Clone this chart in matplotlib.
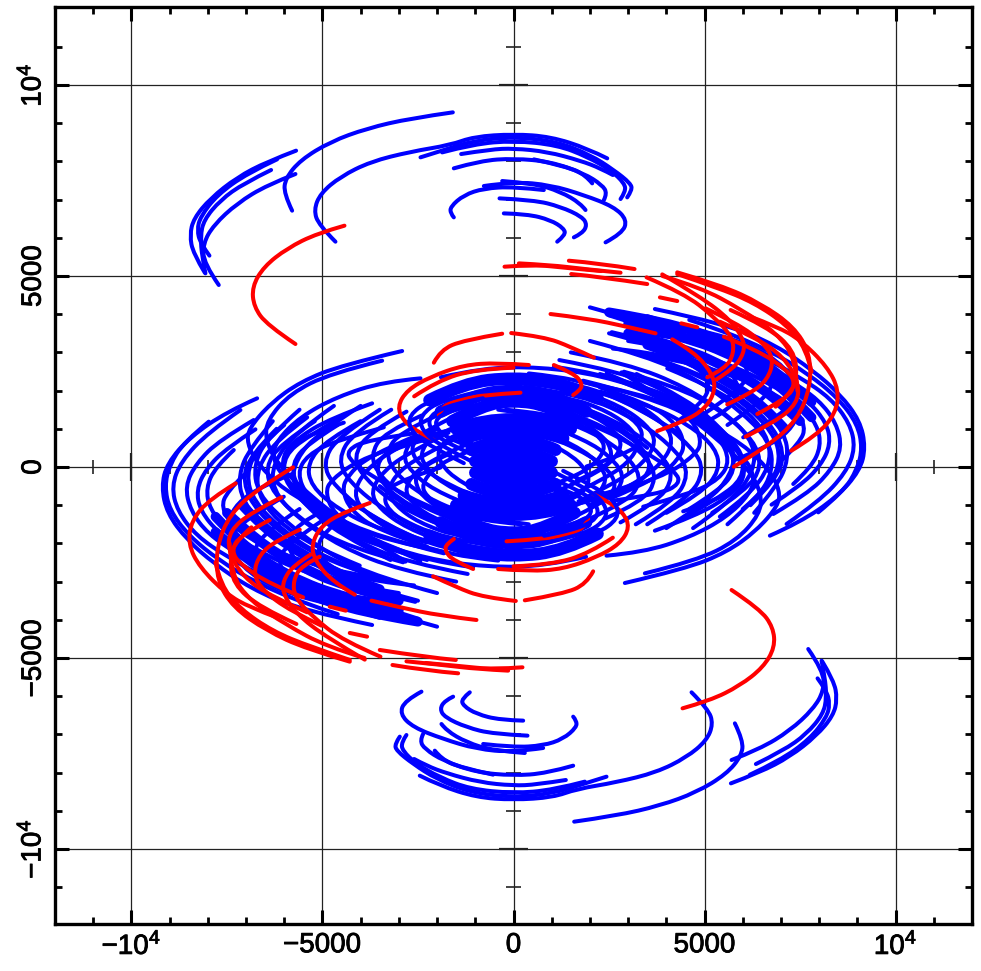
#!/usr/bin/env python3
import matplotlib
matplotlib.use("Agg")
import matplotlib.pyplot as plt
import matplotlib.patheffects as pe
from matplotlib.path import Path
from matplotlib.patches import PathPatch

plt.rcParams["font.family"] = ["Liberation Sans", "DejaVu Sans"]
plt.rcParams["mathtext.fontset"] = "custom"
plt.rcParams["mathtext.rm"] = "Liberation Sans"
plt.rcParams["mathtext.default"] = "regular"

major_ticks = [-10000, -5000, 0, 5000, 10000]
minor_ticks = [v for v in range(-11000, 12000, 1000) if v % 5000 != 0]
tick_labels = ["$-10^4$", "$-5000$", "0", "5000", "$10^4$"]

# arcs, in data units
blue_top = [
    [(-5690,8282),(-6449,7994),(-7234,7584),(-7932,7034),(-8369,6510),(-8473,6074),(-8386,5594),(-8080,5088)],
    [(-6187,8055),(-6972,7688),(-7758,7121),(-8194,6554),(-8281,6205),(-8194,5856),(-7958,5533)],
    [(-6344,7776),(-7060,7426),(-7670,6990),(-8107,6466),(-8194,6030),(-8150,5507),(-8063,5070)],
    [(-5707,7671),(-6449,7383),(-7234,6903),(-7845,6336),(-8124,5856),(-8107,5332),(-7714,4765)],
    [(-1588,9285),(-2696,9128),(-3831,8866),(-4790,8517),(-5576,8037),(-5969,7557),(-6012,7165),(-5794,6711)],
    [(-4660,5899),(-5096,6336),(-5227,6728),(-5052,7165),(-4529,7601),(-3743,7994),(-2696,8255),(-1649,8430),(-1038,8648),(9,8717),(969,8648),(1929,8342),(2453,8080)],
    [(-2434,8107),(-1823,8299),(-1038,8543),(9,8648),(1144,8517),(2016,8168),(2627,7775),(3064,7426),(3107,7251),(2976,7059)],
    [(-1867,8237),(-1038,8456),(9,8543),(1144,8429),(1929,8124),(2540,7775),(2907,7426),(2933,7208),(2802,7016)],
    [(-1370,8194),(-602,8316),(9,8342),(882,8255),(1755,8019),(2278,7819),(2601,7644)],
    [(-1562,7819),(-864,8019),(9,8080),(969,7993),(1842,7688),(2322,7382),(2453,7164),(2365,6990)],
    [(533,8054),(1406,7862),(1885,7644),(2060,7426)],
    [(-776,7356),(9,7470),(969,7382),(1842,7120),(2627,6815),(2976,6466),(2845,6117),(2409,5881)],
    [(794,7251),(9,7339),(-776,7295),(-1300,7120),(-1649,6815),(-1649,6640),(-1562,6536)],
    [(-296,7487),(533,7426),(1231,7208),(1755,6902),(1885,6728)],
    [(-366,7033),(533,6990),(1231,6815),(1798,6553),(1929,6335),(1798,6117),(1580,6012)],
    [(-253,6640),(358,6623),(969,6466),(1318,6248),(1362,6073),(1144,5899)],
]

blue_bottom = [
    [(5690,-8282),(6449,-7994),(7234,-7584),(7932,-7034),(8369,-6510),(8473,-6074),(8386,-5594),(8080,-5088)],
    [(6187,-8055),(6972,-7688),(7758,-7121),(8194,-6554),(8281,-6205),(8194,-5856),(7958,-5533)],
    [(6344,-7776),(7060,-7426),(7670,-6990),(8107,-6466),(8194,-6030),(8150,-5507),(8063,-5070)],
    [(5707,-7671),(6449,-7383),(7234,-6903),(7845,-6336),(8124,-5856),(8107,-5332),(7714,-4765)],
    [(1588,-9285),(2696,-9128),(3831,-8866),(4790,-8517),(5576,-8037),(5969,-7557),(6012,-7165),(5794,-6711)],
    [(4660,-5899),(5096,-6336),(5227,-6728),(5052,-7165),(4529,-7601),(3743,-7994),(2696,-8255),(1649,-8430),(1038,-8648),(-9,-8717),(-969,-8648),(-1929,-8342),(-2453,-8080)],
    [(2434,-8107),(1823,-8299),(1038,-8543),(-9,-8648),(-1144,-8517),(-2016,-8168),(-2627,-7775),(-3064,-7426),(-3107,-7251),(-2976,-7059)],
    [(1867,-8237),(1038,-8456),(-9,-8543),(-1144,-8429),(-1929,-8124),(-2540,-7775),(-2907,-7426),(-2933,-7208),(-2802,-7016)],
    [(1370,-8194),(602,-8316),(-9,-8342),(-882,-8255),(-1755,-8019),(-2278,-7819),(-2601,-7644)],
    [(1562,-7819),(864,-8019),(-9,-8080),(-969,-7993),(-1842,-7688),(-2322,-7382),(-2453,-7164),(-2365,-6990)],
    [(-533,-8054),(-1406,-7862),(-1885,-7644),(-2060,-7426)],
    [(776,-7356),(-9,-7470),(-969,-7382),(-1842,-7120),(-2627,-6815),(-2976,-6466),(-2845,-6117),(-2409,-5881)],
    [(-794,-7251),(-9,-7339),(776,-7295),(1300,-7120),(1649,-6815),(1649,-6640),(1562,-6536)],
    [(296,-7487),(-533,-7426),(-1231,-7208),(-1755,-6902),(-1885,-6728)],
    [(366,-7033),(-533,-6990),(-1231,-6815),(-1798,-6553),(-1929,-6335),(-1798,-6117),(-1580,-6012)],
    [(253,-6640),(-358,-6623),(-969,-6466),(-1318,-6248),(-1362,-6073),(-1144,-5899)],
]

blue_left = [
    [(-6710,1798),(-7496,1449),(-8456,794),(-9067,96),(-9215,-515),(-9067,-1213),(-8543,-1911),(-7845,-2522),(-6885,-3177),(-5576,-3744),(-3700,-4136)],
    [(-7976,1187),(-8630,650),(-9000,50),(-9130,-500),(-9000,-1130),(-8500,-1800),(-7700,-2450),(-6700,-3050),(-5400,-3600),(-4600,-3850)],
    [(-7147,1492),(-8000,900),(-8700,150),(-8950,-500),(-8800,-1150),(-8300,-1800),(-7500,-2350),(-6400,-2950),(-5000,-3500),(-3500,-3950)],
    [(-6800,1230),(-7700,700),(-8300,100),(-8600,-500),(-8450,-1150),(-8000,-1750),(-7200,-2300),(-6000,-2950),(-4400,-3500),(-3000,-3900),(-2000,-4180)],
    [(-6754,986),(-7500,500),(-8050,-50),(-8300,-600),(-8200,-1150),(-7700,-1750),(-6900,-2300),(-5800,-2850),(-4300,-3400),(-2500,-3970)],
    [(-7321,445),(-7800,0),(-8050,-550),(-7950,-1100),(-7500,-1650),(-6700,-2200),(-5500,-2750),(-4000,-3200),(-2570,-3530)],
    [(-7060,-209),(-7500,-650),(-7650,-1050),(-7350,-1550),(-6700,-2000),(-5600,-2450),(-4300,-2800),(-3176,-2976)],
    [(-5750,-166),(-6623,-515),(-7234,-951),(-7452,-1388),(-7234,-1911),(-6536,-2609),(-5314,-3220),(-3918,-3569)],
    [(-6012,-777),(-7060,-1388),(-7452,-1911),(-7147,-2609),(-6187,-3220),(-4616,-3656),(-3700,-3800)],
    [(-5600,-1100),(-6500,-1700),(-6850,-2250),(-6500,-2800),(-5500,-3250),(-4000,-3550),(-3000,-3650)],
    [(-5000,-1400),(-5900,-2000),(-6200,-2500),(-5800,-3000),(-4700,-3350),(-3300,-3500)],
    [(-4900,-1100),(-5700,-1500),(-5950,-2100),(-5500,-2700),(-4500,-3050),(-3000,-3300)],
    [(-4300,-1200),(-5000,-1700),(-5150,-2250),(-4700,-2700),(-3600,-3000),(-2600,-3100)],
    [(-2914,3037),(-4485,2670),(-5576,2234),(-6361,1667),(-6929,1012),(-6972,620),(-6710,96),(-6012,-602),(-4878,-1213),(-3569,-1824),(-1823,-2260)],
    [(-3438,2784),(-4790,2452),(-5838,1929),(-6449,1231),(-6492,707),(-6187,96),(-5401,-689),(-4267,-1562),(-2827,-2478)],
    [(-2434,2321),(-3394,2234),(-4616,1841),(-5576,1318),(-6187,707),(-6318,271),(-6056,-253),(-5139,-1039),(-3961,-1800),(-2434,-2450)],
    [(-3700,1667),(-4790,1274),(-5663,751),(-6056,314),(-6012,-340),(-5489,-951),(-4616,-1737),(-3220,-2435)],
    [(-4441,1161),(-5401,838),(-5925,445),(-6056,-79),(-5750,-689),(-4965,-1388),(-3831,-1999),(-2260,-2435)],
    [(-3394,1039),(-4616,707),(-5401,314),(-5663,-166),(-5401,-777),(-4616,-1388),(-3394,-1911),(-1649,-2260)],
    [(-2609,881),(-3831,707),(-4354,445),(-4267,140),(-3394,-428),(-2085,-1126),(-776,-1562)],
    [(-2522,707),(-3918,271),(-4790,-340),(-4921,-689),(-4703,-1213),(-3918,-1824),(-2522,-2347)],
    [(-2609,794),(-3831,271),(-4354,-253),(-4485,-602),(-4267,-1126),(-3569,-1649),(-2260,-2086)],
    [(-2000,794),(-3045,533),(-3569,183),(-3525,-340),(-2870,-951),(-1823,-1475)],
    [(-1911,-15),(-2958,-340),(-3394,-689),(-3307,-1126),(-2522,-1649),(-1213,-2086)],
    [(-1649,358),(-2434,9),(-2609,-340),(-2347,-864),(-1474,-1388)],
    [(-1649,969),(-2434,794),(-2696,532),(-2522,96),(-1823,-428),(-776,-864)],
    [(-5000,-1200),(-3800,-1900),(-2300,-2400),(-700,-2620),(800,-2600),(1900,-2350)],
    [(-4300,-900),(-3200,-1600),(-1800,-2150),(-200,-2350),(1300,-2150)],
    [(-3500,-500),(-2600,-1200),(-1300,-1800),(200,-2000),(1500,-1800)],
]

blue_right = [
    [(6710,-1798),(7496,-1449),(8456,-794),(9067,-96),(9215,515),(9067,1213),(8543,1911),(7845,2522),(6885,3177),(5576,3744),(3700,4136)],
    [(7976,-1187),(8630,-650),(9000,-50),(9130,500),(9000,1130),(8500,1800),(7700,2450),(6700,3050),(5400,3600),(4600,3850)],
    [(7147,-1492),(8000,-900),(8700,-150),(8950,500),(8800,1150),(8300,1800),(7500,2350),(6400,2950),(5000,3500),(3500,3950)],
    [(6800,-1230),(7700,-700),(8300,-100),(8600,500),(8450,1150),(8000,1750),(7200,2300),(6000,2950),(4400,3500),(3000,3900),(2000,4180)],
    [(6754,-986),(7500,-500),(8050,50),(8300,600),(8200,1150),(7700,1750),(6900,2300),(5800,2850),(4300,3400),(2500,3970)],
    [(7321,-445),(7800,0),(8050,550),(7950,1100),(7500,1650),(6700,2200),(5500,2750),(4000,3200),(2570,3530)],
    [(7060,209),(7500,650),(7650,1050),(7350,1550),(6700,2000),(5600,2450),(4300,2800),(3176,2976)],
    [(5750,166),(6623,515),(7234,951),(7452,1388),(7234,1911),(6536,2609),(5314,3220),(3918,3569)],
    [(6012,777),(7060,1388),(7452,1911),(7147,2609),(6187,3220),(4616,3656),(3700,3800)],
    [(5600,1100),(6500,1700),(6850,2250),(6500,2800),(5500,3250),(4000,3550),(3000,3650)],
    [(5000,1400),(5900,2000),(6200,2500),(5800,3000),(4700,3350),(3300,3500)],
    [(4900,1100),(5700,1500),(5950,2100),(5500,2700),(4500,3050),(3000,3300)],
    [(4300,1200),(5000,1700),(5150,2250),(4700,2700),(3600,3000),(2600,3100)],
    [(2914,-3037),(4485,-2670),(5576,-2234),(6361,-1667),(6929,-1012),(6972,-620),(6710,-96),(6012,602),(4878,1213),(3569,1824),(1823,2260)],
    [(3438,-2784),(4790,-2452),(5838,-1929),(6449,-1231),(6492,-707),(6187,-96),(5401,689),(4267,1562),(2827,2478)],
    [(2434,-2321),(3394,-2234),(4616,-1841),(5576,-1318),(6187,-707),(6318,-271),(6056,253),(5139,1039),(3961,1800),(2434,2450)],
    [(3700,-1667),(4790,-1274),(5663,-751),(6056,-314),(6012,340),(5489,951),(4616,1737),(3220,2435)],
    [(4441,-1161),(5401,-838),(5925,-445),(6056,79),(5750,689),(4965,1388),(3831,1999),(2260,2435)],
    [(3394,-1039),(4616,-707),(5401,-314),(5663,166),(5401,777),(4616,1388),(3394,1911),(1649,2260)],
    [(2609,-881),(3831,-707),(4354,-445),(4267,-140),(3394,428),(2085,1126),(776,1562)],
    [(2522,-707),(3918,-271),(4790,340),(4921,689),(4703,1213),(3918,1824),(2522,2347)],
    [(2609,-794),(3831,-271),(4354,253),(4485,602),(4267,1126),(3569,1649),(2260,2086)],
    [(2000,-794),(3045,-533),(3569,-183),(3525,340),(2870,951),(1823,1475)],
    [(1911,15),(2958,340),(3394,689),(3307,1126),(2522,1649),(1213,2086)],
    [(1649,-358),(2434,-9),(2609,340),(2347,864),(1474,1388)],
    [(1649,-969),(2434,-794),(2696,-532),(2522,-96),(1823,428),(776,864)],
    [(5000,1200),(3800,1900),(2300,2400),(700,2620),(-800,2600),(-1900,2350)],
    [(4300,900),(3200,1600),(1800,2150),(200,2350),(-1300,2150)],
    [(3500,500),(2600,1200),(1300,1800),(-200,2000),(-1500,1800)],
]

# the inner rings of the disk, tips on the right
blue_mid_right = [
    [(3194,3001),(4500,2600),(5700,2000),(6700,1200),(7100,400),(6900,-300),(6200,-1000)],
    [(3718,2844),(5000,2350),(6000,1700),(6800,900),(7000,200),(6700,-500),(6000,-1100)],
    [(4024,2582),(5200,2100),(6200,1400),(6700,700),(6700,0),(6200,-700),(5400,-1300)],
    [(2889,2495),(4300,2100),(5400,1500),(6300,700),(6500,0),(6100,-600),(5200,-1200)],
    [(1056,2626),(2278,2451),(4024,1840),(5333,1055),(6000,300),(6000,-300),(5400,-800),(4500,-1300)],
    [(2278,1971),(3500,1650),(4600,1100),(5300,500),(5400,-100),(4900,-700),(4000,-1200)],
    [(4024,1710),(5000,1200),(5700,500),(5800,-100),(5400,-600),(4600,-1100)],
    [(500,2300),(2000,2100),(3600,1400),(4700,500),(5000,-100),(4600,-800),(3500,-1500)],
    [(300,2100),(1800,1900),(3300,1200),(4300,400),(4600,-200),(4200,-900),(3200,-1500)],
    [(0,1900),(1500,1700),(3000,1050),(3900,300),(4200,-250),(3800,-900),(2800,-1450)],
    [(-200,1700),(1300,1500),(2700,900),(3500,250),(3750,-300),(3400,-900),(2400,-1350)],
    [(-400,1500),(1100,1300),(2400,750),(3100,150),(3350,-350),(3000,-900),(2000,-1350)],
    [(-300,1250),(900,1100),(2100,600),(2700,100),(2900,-300),(2600,-800),(1700,-1250)],
    [(0,1000),(1000,850),(1900,400),(2300,0),(2450,-350),(2150,-800),(1300,-1150)],
    [(100,800),(900,650),(1600,250),(1900,-100),(2000,-400),(1700,-800),(1000,-1050)],
    [(400,2450),(1800,2300),(3000,1800),(3900,1200),(4200,700),(3900,100),(3100,-500),(2000,-1000)],
    [(200,2200),(1600,2050),(2800,1600),(3500,1100),(3750,650),(3400,100),(2700,-400),(1700,-900)],
    [(0,2000),(1400,1850),(2500,1450),(3100,1000),(3300,600),(3000,100),(2300,-350),(1400,-800)],
    [(-100,1800),(1200,1650),(2200,1300),(2700,900),(2850,550),(2550,100),(1900,-300),(1100,-650)],
    [(-200,1500),(900,1400),(1800,1100),(2300,750),(2400,450),(2100,50),(1500,-300),(800,-550)],
    [(1500,3000),(3000,2700),(4500,2100),(5700,1300),(6300,600),(6300,-100),(5700,-900),(4700,-1600)],
    [(1200,2800),(2800,2500),(4200,1900),(5300,1100),(5800,450),(5700,-200),(5100,-900),(4000,-1600)],
    [(2000,3300),(3500,2900),(4800,2300),(5900,1500),(6700,700),(6800,-100),(6400,-800),(5600,-1500)],
    [(2500,3500),(4000,3100),(5300,2500),(6400,1700),(7100,900),(7200,200),(6900,-500),(6300,-1200)],
]

blue_mid_left = [
    [(-3194,-3001),(-4500,-2600),(-5700,-2000),(-6700,-1200),(-7100,-400),(-6900,300),(-6200,1000)],
    [(-3718,-2844),(-5000,-2350),(-6000,-1700),(-6800,-900),(-7000,-200),(-6700,500),(-6000,1100)],
    [(-4024,-2582),(-5200,-2100),(-6200,-1400),(-6700,-700),(-6700,0),(-6200,700),(-5400,1300)],
    [(-2889,-2495),(-4300,-2100),(-5400,-1500),(-6300,-700),(-6500,0),(-6100,600),(-5200,1200)],
    [(-1056,-2626),(-2278,-2451),(-4024,-1840),(-5333,-1055),(-6000,-300),(-6000,300),(-5400,800),(-4500,1300)],
    [(-2278,-1971),(-3500,-1650),(-4600,-1100),(-5300,-500),(-5400,100),(-4900,700),(-4000,1200)],
    [(-4024,-1710),(-5000,-1200),(-5700,-500),(-5800,100),(-5400,600),(-4600,1100)],
    [(-500,-2300),(-2000,-2100),(-3600,-1400),(-4700,-500),(-5000,100),(-4600,800),(-3500,1500)],
    [(-300,-2100),(-1800,-1900),(-3300,-1200),(-4300,-400),(-4600,200),(-4200,900),(-3200,1500)],
    [(0,-1900),(-1500,-1700),(-3000,-1050),(-3900,-300),(-4200,250),(-3800,900),(-2800,1450)],
    [(200,-1700),(-1300,-1500),(-2700,-900),(-3500,-250),(-3750,300),(-3400,900),(-2400,1350)],
    [(400,-1500),(-1100,-1300),(-2400,-750),(-3100,-150),(-3350,350),(-3000,900),(-2000,1350)],
    [(300,-1250),(-900,-1100),(-2100,-600),(-2700,-100),(-2900,300),(-2600,800),(-1700,1250)],
    [(0,-1000),(-1000,-850),(-1900,-400),(-2300,0),(-2450,350),(-2150,800),(-1300,1150)],
    [(-100,-800),(-900,-650),(-1600,-250),(-1900,100),(-2000,400),(-1700,800),(-1000,1050)],
    [(-400,-2450),(-1800,-2300),(-3000,-1800),(-3900,-1200),(-4200,-700),(-3900,-100),(-3100,500),(-2000,1000)],
    [(-200,-2200),(-1600,-2050),(-2800,-1600),(-3500,-1100),(-3750,-650),(-3400,-100),(-2700,400),(-1700,900)],
    [(0,-2000),(-1400,-1850),(-2500,-1450),(-3100,-1000),(-3300,-600),(-3000,-100),(-2300,350),(-1400,800)],
    [(100,-1800),(-1200,-1650),(-2200,-1300),(-2700,-900),(-2850,-550),(-2550,-100),(-1900,300),(-1100,650)],
    [(200,-1500),(-900,-1400),(-1800,-1100),(-2300,-750),(-2400,-450),(-2100,-50),(-1500,300),(-800,550)],
    [(-1500,-3000),(-3000,-2700),(-4500,-2100),(-5700,-1300),(-6300,-600),(-6300,100),(-5700,900),(-4700,1600)],
    [(-1200,-2800),(-2800,-2500),(-4200,-1900),(-5300,-1100),(-5800,-450),(-5700,200),(-5100,900),(-4000,1600)],
    [(-2000,-3300),(-3500,-2900),(-4800,-2300),(-5900,-1500),(-6700,-700),(-6800,100),(-6400,800),(-5600,1500)],
    [(-2500,-3500),(-4000,-3100),(-5300,-2500),(-6400,-1700),(-7100,-900),(-7200,-200),(-6900,500),(-6300,1200)],
]

# arcs that run over the red ring near the core
blue_ring_tips = [
    [(-1400,2000),(-2200,1750),(-2750,1350),(-2700,950),(-2200,550),(-1300,100)],
    [(-1000,1950),(-1900,1750),(-2450,1350),(-2400,950),(-1900,550),(-1100,150)],
    [(-800,1800),(-1600,1650),(-2220,1350),(-2180,950),(-1700,600),(-900,250)],
    [(-600,1700),(-1400,1550),(-2050,1300),(-2000,950),(-1500,650),(-700,350)],
    [(1400,-2000),(2200,-1750),(2750,-1350),(2700,-950),(2200,-550),(1300,-100)],
    [(1000,-1950),(1900,-1750),(2450,-1350),(2400,-950),(1900,-550),(1100,-150)],
    [(800,-1800),(1600,-1650),(2220,-1350),(2180,-950),(1700,-600),(900,-250)],
    [(600,-1700),(1400,-1550),(2050,-1300),(2000,-950),(1500,-650),(700,-350)],
]

# solid parts of the core
blue_core = [
    [(-2200,1750),(-1300,2200),(0,2350),(1300,2200),(2200,1800)],
    [(-1900,1450),(-1000,1900),(0,2020),(1000,1900),(1900,1450)],
    [(-1600,1200),(-800,1620),(0,1750),(900,1620),(1700,1200)],
    [(-1500,1000),(0,1500),(1500,1000)],
    [(-1300,750),(0,1200),(1300,750)],
    [(-1100,450),(0,950),(1100,450)],
    [(-1000,150),(0,650),(1000,150)],
    [(-900,-50),(0,300),(900,-50)],
    [(2200,-1750),(1300,-2200),(0,-2350),(-1300,-2200),(-2200,-1800)],
    [(1900,-1450),(1000,-1900),(0,-2020),(-1000,-1900),(-1900,-1450)],
    [(1600,-1200),(800,-1620),(0,-1750),(-900,-1620),(-1700,-1200)],
    [(1500,-1000),(0,-1500),(-1500,-1000)],
    [(1300,-750),(0,-1200),(-1300,-750)],
    [(1100,-450),(0,-950),(-1100,-450)],
    [(1000,-150),(0,-650),(-1000,-150)],
    [(900,50),(0,-300),(-900,50)],
]

# dense bands at the two ends of the disk
blue_bands = [
    [(2500,4050),(4000,3800),(5500,3300),(6800,2600),(7800,1700)],
    [(3000,3750),(4500,3400),(5800,2900),(7000,2150),(7800,1300)],
    [(3000,3500),(4500,3100),(5600,2600),(6700,1950),(7500,1200)],
    [(3500,3200),(4500,2850),(5500,2300),(6500,1650),(7100,1000)],
    [(-2500,-4050),(-4000,-3800),(-5500,-3300),(-6800,-2600),(-7800,-1700)],
    [(-3000,-3750),(-4500,-3400),(-5800,-2900),(-7000,-2150),(-7800,-1300)],
    [(-3000,-3500),(-4500,-3100),(-5600,-2600),(-6700,-1950),(-7500,-1200)],
    [(-3500,-3200),(-4500,-2850),(-5500,-2300),(-6500,-1650),(-7100,-1000)],
]

red_top = [
    [(-4424,6318),(-5140,6117),(-5925,5725),(-6536,5245),(-6841,4721),(-6798,4197),(-6449,3718),(-5707,3220)],
    [(-235,5244),(533,5300),(1400,5210),(2300,5130)],
    [(1449,5401),(2278,5331),(3168,5183)],
    [(140,5331),(969,5288),(1842,5183),(2802,5087)],
    [(1510,5052),(2278,4982),(3500,4790)],
    [(4155,3342),(4722,3019),(5202,2451),(5289,2015),(5027,1535),(4460,1186),(3762,942)],
    [(3482,4965),(4460,4546),(5245,3935),(5725,3411),(5769,2975),(5551,2583),(5071,2347)],
    [(3893,5043),(4896,4459),(5681,3848),(6031,3324),(6031,2975),(5769,2583),(5315,2295)],
    [(5027,4153),(5856,3761),(6554,3237),(6816,2801),(6642,2277),(6205,1928),(5594,1640)],
    [(5402,3804),(6293,3411),(7078,2888),(7471,2190),(7427,1666),(6860,1186),(6074,793)],
    [(5507,3411),(6380,3062),(7165,2539),(7384,2190),(7165,1797),(6380,1387)],
    [(5682,4110),(6642,3673),(7340,3062),(7427,2364),(7252,1928),(6860,1579)],
    [(4285,5096),(5420,4764),(6467,4284),(7340,3673),(7759,2975),(7776,2102),(7427,1230),(6642,532),(5769,8)],
    [(4285,5050),(5330,4700),(6300,4300),(7150,3720),(7660,3100),(7800,2500)],
    [(3900,5000),(4900,4700),(5950,4130),(6900,3500),(7400,2800),(7430,2000)],
    [(6205,3935),(6904,3673),(7514,3324),(8213,2626),(8518,2015),(8431,1404),(7951,837),(7270,427)],
    [(3832,4441),(4286,4345)],
    [(4390,3761),(4809,3656)],
    [(969,4005),(1929,3891),(2976,3673),(3718,3499)],
    [(-2085,2731),(-1911,3062),(-1300,3324),(-296,3490)],
    [(-61,3507),(794,3411),(1493,3150),(2104,2862)],
    [(402,2670),(-428,2731),(-1300,2670),(-2173,2365),(-2784,2016),(-3046,1579),(-2871,1187),(-2435,881),(-2086,707)],
    [(0,2600),(-1000,2560),(-2000,2250),(-2600,1850)],
    [(1056,2670),(1580,2452),(1798,2190),(1754,2016),(1562,1885)],
    [(183,1946),(-864,1885),(-1649,1710),(-1911,1492),(-1955,1361)],
]

red_bottom = [
    [(4424,-6318),(5140,-6117),(5925,-5725),(6536,-5245),(6841,-4721),(6798,-4197),(6449,-3718),(5707,-3220)],
    [(235,-5244),(-533,-5300),(-1400,-5210),(-2300,-5130)],
    [(-1449,-5401),(-2278,-5331),(-3168,-5183)],
    [(-140,-5331),(-969,-5288),(-1842,-5183),(-2802,-5087)],
    [(-1510,-5052),(-2278,-4982),(-3500,-4790)],
    [(-4155,-3342),(-4722,-3019),(-5202,-2451),(-5289,-2015),(-5027,-1535),(-4460,-1186),(-3762,-942)],
    [(-3482,-4965),(-4460,-4546),(-5245,-3935),(-5725,-3411),(-5769,-2975),(-5551,-2583),(-5071,-2347)],
    [(-3893,-5043),(-4896,-4459),(-5681,-3848),(-6031,-3324),(-6031,-2975),(-5769,-2583),(-5315,-2295)],
    [(-5027,-4153),(-5856,-3761),(-6554,-3237),(-6816,-2801),(-6642,-2277),(-6205,-1928),(-5594,-1640)],
    [(-5402,-3804),(-6293,-3411),(-7078,-2888),(-7471,-2190),(-7427,-1666),(-6860,-1186),(-6074,-793)],
    [(-5507,-3411),(-6380,-3062),(-7165,-2539),(-7384,-2190),(-7165,-1797),(-6380,-1387)],
    [(-5682,-4110),(-6642,-3673),(-7340,-3062),(-7427,-2364),(-7252,-1928),(-6860,-1579)],
    [(-4285,-5096),(-5420,-4764),(-6467,-4284),(-7340,-3673),(-7759,-2975),(-7776,-2102),(-7427,-1230),(-6642,-532),(-5769,-8)],
    [(-4285,-5050),(-5330,-4700),(-6300,-4300),(-7150,-3720),(-7660,-3100),(-7800,-2500)],
    [(-3900,-5000),(-4900,-4700),(-5950,-4130),(-6900,-3500),(-7400,-2800),(-7430,-2000)],
    [(-6205,-3935),(-6904,-3673),(-7514,-3324),(-8213,-2626),(-8518,-2015),(-8431,-1404),(-7951,-837),(-7270,-427)],
    [(-3832,-4441),(-4286,-4345)],
    [(-4390,-3761),(-4809,-3656)],
    [(-969,-4005),(-1929,-3891),(-2976,-3673),(-3718,-3499)],
    [(2085,-2731),(1911,-3062),(1300,-3324),(296,-3490)],
    [(61,-3507),(-794,-3411),(-1493,-3150),(-2104,-2862)],
    [(-402,-2670),(428,-2731),(1300,-2670),(2173,-2365),(2784,-2016),(3046,-1579),(2871,-1187),(2435,-881),(2086,-707)],
    [(0,-2600),(1000,-2560),(2000,-2250),(2600,-1850)],
    [(-1056,-2670),(-1580,-2452),(-1798,-2190),(-1754,-2016),(-1562,-1885)],
    [(-183,-1946),(864,-1885),(1649,-1710),(1911,-1492),(1955,-1361)],
]


def draw_arc(ax, pts, color, lw, zorder):
    # points act as spline controls so the arc comes out smooth
    if len(pts) < 3:
        path = Path(pts)
    else:
        verts = [pts[0]]
        codes = [Path.MOVETO]
        for i in range(1, len(pts) - 1):
            a, b = pts[i], pts[i + 1]
            end = b if i == len(pts) - 2 else ((a[0] + b[0]) / 2, (a[1] + b[1]) / 2)
            verts += [a, end]
            codes += [Path.CURVE3, Path.CURVE3]
        path = Path(verts, codes)
    ax.add_patch(PathPatch(path, fill=False, edgecolor=color, lw=lw, capstyle="round", joinstyle="round", zorder=zorder))


def main():
    fig = plt.figure(figsize=(9.81, 9.71), dpi=100)
    ax = fig.add_axes([55 / 981, 1 - 924 / 971, (972 - 55) / 981, (924 - 7) / 971])

    for group in (blue_top, blue_bottom, blue_left, blue_right, blue_mid_right, blue_mid_left):
        for arc in group:
            draw_arc(ax, arc, "#0000ff", 2.9, 2)
    for arc in blue_core:
        draw_arc(ax, arc, "#0000ff", 9, 2)
    for arc in blue_bands:
        draw_arc(ax, arc, "#0000ff", 7, 2)
    for group in (red_top, red_bottom):
        for arc in group:
            draw_arc(ax, arc, "#ff0000", 2.9, 3)
    for arc in blue_ring_tips:
        draw_arc(ax, arc, "#0000ff", 2.9, 4)

    ax.set_xlim(-12000, 12000)
    ax.set_ylim(-11964, 12043)
    ax.set_xticks(major_ticks, tick_labels)
    ax.set_yticks(major_ticks, tick_labels, rotation=90, va="center")
    ax.set_xticks(minor_ticks, minor=True)
    ax.set_yticks(minor_ticks, minor=True)
    ax.tick_params(which="major", direction="in", length=10, width=2.2, top=True, right=True, labelsize=20, pad=6)
    ax.tick_params(which="minor", direction="in", length=5, width=2.0, top=True, right=True)
    for label in ax.get_xticklabels() + ax.get_yticklabels():
        label.set_path_effects([pe.withStroke(linewidth=0.6, foreground="black")])
    ax.grid(which="major", color="#222222", lw=0.9, zorder=1)
    ax.set_axisbelow(True)
    for side in ax.spines.values():
        side.set_linewidth(2.4)

    # ticks along the centre lines
    ax.vlines(minor_ticks, -190, 190, color="#222222", lw=1.2, zorder=1)
    ax.hlines(minor_ticks, -190, 190, color="#222222", lw=1.2, zorder=1)
    ax.vlines(major_ticks, -370, 370, color="#222222", lw=1.6, zorder=1)
    ax.hlines(major_ticks, -370, 370, color="#222222", lw=1.6, zorder=1)

    fig.savefig("out.png", dpi=100)
    plt.close(fig)


if __name__ == "__main__":
    main()
